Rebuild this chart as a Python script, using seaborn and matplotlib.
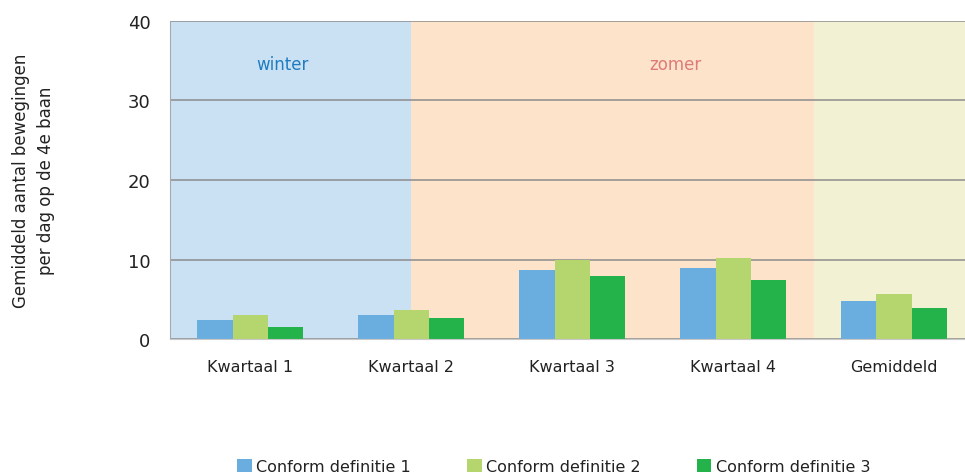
import matplotlib
matplotlib.use("Agg")
import matplotlib.pyplot as plt
import seaborn as sns
import pandas as pd

# data
categories = ['Kwartaal 1', 'Kwartaal 2', 'Kwartaal 3', 'Kwartaal 4', 'Gemiddeld']
series = ['Conform definitie 1', 'Conform definitie 2', 'Conform definitie 3']
def1 = [2.4, 3.0, 8.7, 8.9, 4.8]
def2 = [3.0, 3.6, 10.0, 10.2, 5.7]
def3 = [1.5, 2.6, 7.9, 7.4, 3.9]
colors = ['#6aaddf', '#b5d56e', '#24b24b']

rows = []
for s, vals in zip(series, [def1, def2, def3]):
    for c, v in zip(categories, vals):
        rows.append({'cat': c, 'serie': s, 'waarde': v})
df = pd.DataFrame(rows)

sns.set_style('white')
plt.rcParams['font.family'] = ['DejaVu Sans']

fig = plt.figure(figsize=(9.65, 4.77), dpi=100)
ax = fig.add_axes([0.176, 0.287, 0.824, 0.667])

# seasonal backgrounds
ax.axvspan(-0.5, 1.0, color='#cae1f4', zorder=-3, lw=0)
ax.axvspan(1.0, 3.5, color='#fde3c9', zorder=-3, lw=0)
ax.axvspan(3.5, 4.6, color='#f3f1d3', zorder=-3, lw=0)

sns.barplot(data=df, x='cat', y='waarde', hue='serie', palette=colors,
            width=0.66, gap=0, saturation=1, linewidth=0, ax=ax, legend=True)

ax.set_axisbelow(True)
ax.yaxis.grid(True, color='#8c8c8c', lw=1.1)
ax.set_xlim(-0.5, 4.44)
ax.set_ylim(0, 40)
ax.set_yticks([0, 10, 20, 30, 40])

for s in ['top', 'right']:
    ax.spines[s].set_visible(False)
ax.spines['left'].set_color('#a8a8a8')
ax.spines['bottom'].set_color('#c8c8c8')

ax.tick_params(axis='y', length=8, color='#a8a8a8', labelsize=13, labelcolor='#222222', pad=6)
ax.tick_params(axis='x', which='major', length=0, labelsize=11.5, labelcolor='#222222', pad=14)
ax.set_xticks([-0.5, 0.5, 1.5, 2.5, 3.5], minor=True)
ax.tick_params(axis='x', which='minor', length=8, color='#c8c8c8')
ax.set_xlabel('')
ax.set_ylabel('Gemiddeld aantal bewegingen\nper dag op de 4e baan', fontsize=12,
              color='#222222', labelpad=52, linespacing=1.55)

ax.text(0.2, 34.6, 'winter', color='#1f7cc0', fontsize=12, ha='center', va='center')
ax.text(2.64, 34.6, 'zomer', color='#de7a78', fontsize=12, ha='center', va='center')

leg = ax.legend(loc='center', bbox_to_anchor=(0.483, -0.40), ncol=3, frameon=False,
                fontsize=11.5, handlelength=0.9, handleheight=0.9, handletextpad=0.3,
                columnspacing=3.5)
for t in leg.get_texts():
    t.set_color('#222222')

fig.savefig('out.png', dpi=100)
